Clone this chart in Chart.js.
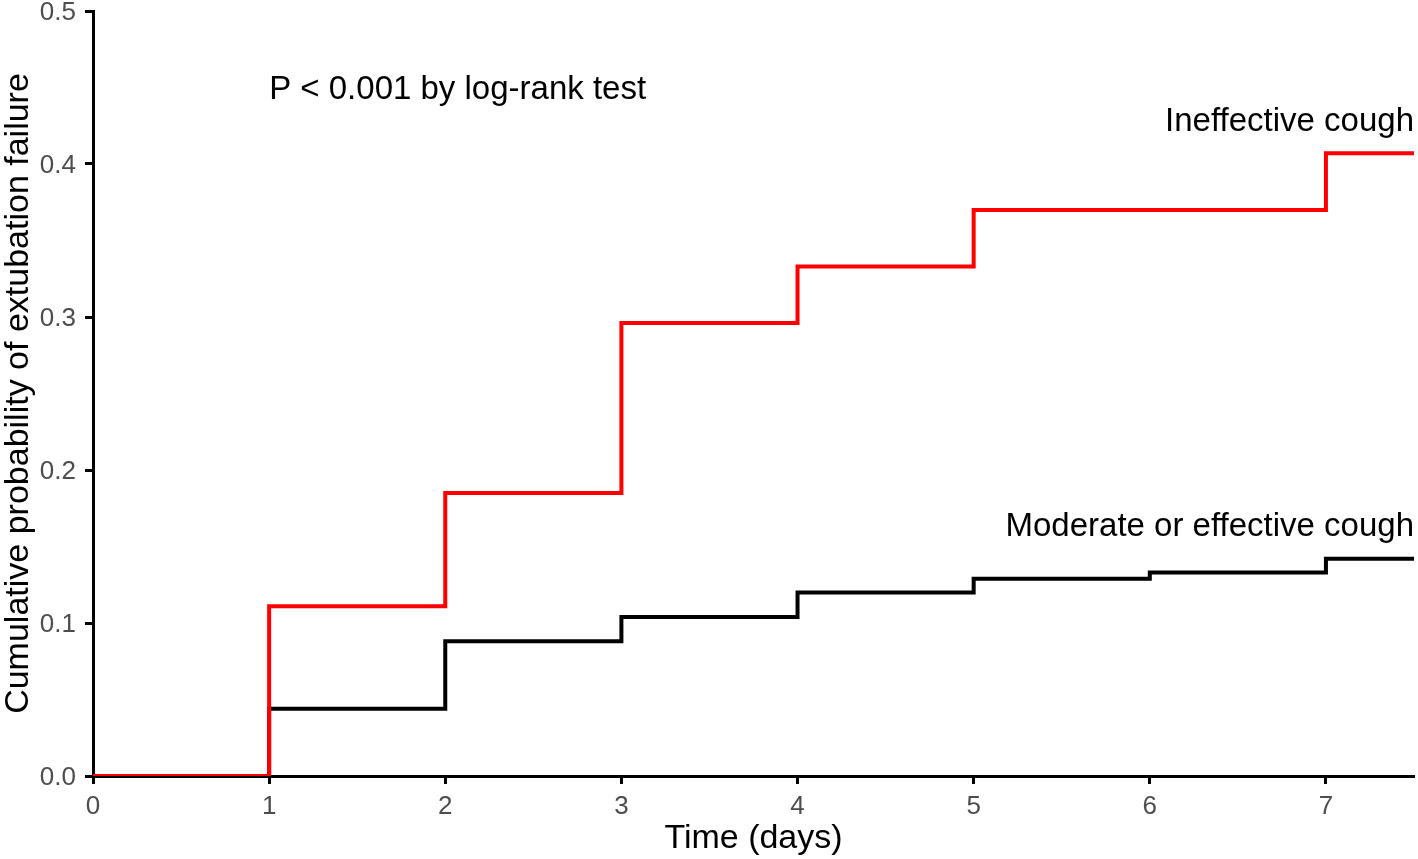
<!DOCTYPE html>
<html>
<head>
<meta charset="utf-8">
<script src="https://cdn.jsdelivr.net/npm/chart.js@4/dist/chart.umd.min.js"></script>
<style>
  html, body { margin: 0; padding: 0; background: #fff; }
  #wrap { width: 1418px; height: 859px; }
</style>
</head>
<body>
<div id="wrap"><canvas id="kmChart"></canvas></div>
<script>
// Kaplan-Meier style cumulative failure
const days = [0, 1, 2, 3, 4, 5, 6, 7, 7.5];
const ineffective = [0, 0.111, 0.185, 0.296, 0.333, 0.370, 0.370, 0.407, 0.407];
const moderate = [0, 0.044, 0.088, 0.104, 0.120, 0.129, 0.133, 0.142, 0.142];
const xTicks = [0, 1, 2, 3, 4, 5, 6, 7];
const yTicks = [0, 0.1, 0.2, 0.3, 0.4, 0.5];

const FONT = "'Liberation Sans', Arial, Helvetica, sans-serif";

function toPoints(values) {
    return days.map((d, i) => ({ x: d, y: values[i] }));
}

// text annotations drawn in data space
const annotations = {
    id: 'annotations',
    afterDatasetsDraw(chart) {
        const { ctx, scales } = chart;
        const items = [
            { text: 'P < 0.001 by log-rank test', x: 1.0, y: 0.4425, align: 'left' },
            { text: 'Ineffective cough', x: 7.5, y: 0.4216, align: 'right' },
            { text: 'Moderate or effective cough', x: 7.5, y: 0.157, align: 'right' }
        ];
        ctx.save();
        ctx.fillStyle = '#000';
        ctx.font = '33px ' + FONT;
        ctx.textBaseline = 'alphabetic';
        items.forEach(item => {
            ctx.textAlign = item.align;
            ctx.fillText(item.text, scales.x.getPixelForValue(item.x), scales.y.getPixelForValue(item.y));
        });
        ctx.restore();
    }
};

const ctx = document.getElementById('kmChart').getContext('2d');
new Chart(ctx, {
    type: 'line',
    data: {
        datasets: [
            {
                label: 'Ineffective cough',
                data: toPoints(ineffective),
                borderColor: '#ff0000',
                borderWidth: 4,
                stepped: 'before',
                pointRadius: 0,
                fill: false
            },
            {
                label: 'Moderate or effective cough',
                data: toPoints(moderate),
                borderColor: '#000000',
                borderWidth: 4,
                stepped: 'before',
                pointRadius: 0,
                fill: false
            }
        ]
    },
    options: {
        responsive: true,
        maintainAspectRatio: false,
        animation: false,
        layout: {
            padding: { top: 11, right: 4, left: 0, bottom: 0 }
        },
        scales: {
            x: {
                type: 'linear',
                min: 0,
                max: 7.5,
                afterBuildTicks: scale => { scale.ticks = xTicks.map(v => ({ value: v })); },
                afterFit: scale => {
                    scale.height = 83;
                    scale.paddingLeft = 0;
                    scale.paddingRight = 0;
                },
                grid: {
                    drawOnChartArea: false,
                    drawTicks: true,
                    tickLength: 8,
                    tickWidth: 3,
                    tickColor: '#000'
                },
                border: { display: true, color: '#000', width: 3 },
                ticks: {
                    color: '#4d4d4d',
                    padding: 7,
                    font: { family: FONT, size: 26 }
                },
                title: {
                    display: true,
                    text: 'Time (days)',
                    color: '#000',
                    padding: 0,
                    font: { family: FONT, size: 34, lineHeight: 1.2 }
                }
            },
            y: {
                type: 'linear',
                min: 0,
                max: 0.5,
                afterBuildTicks: scale => { scale.ticks = yTicks.map(v => ({ value: v })); },
                afterFit: scale => {
                    scale.width = 93;
                    scale.paddingTop = 0;
                    scale.paddingBottom = 0;
                },
                grid: {
                    drawOnChartArea: false,
                    drawTicks: true,
                    tickLength: 8,
                    tickWidth: 3,
                    tickColor: '#000'
                },
                border: { display: true, color: '#000', width: 3 },
                ticks: {
                    color: '#4d4d4d',
                    padding: 9,
                    labelOffset: 2,
                    font: { family: FONT, size: 26 },
                    callback: v => v.toFixed(1)
                },
                title: {
                    display: true,
                    text: 'Cumulative probability of extubation failure',
                    color: '#000',
                    padding: 0,
                    font: { family: FONT, size: 34, lineHeight: 1.1 }
                }
            }
        },
        plugins: {
            legend: { display: false },
            tooltip: { enabled: false },
            title: { display: false }
        }
    },
    plugins: [annotations]
});
</script>
</body>
</html>
